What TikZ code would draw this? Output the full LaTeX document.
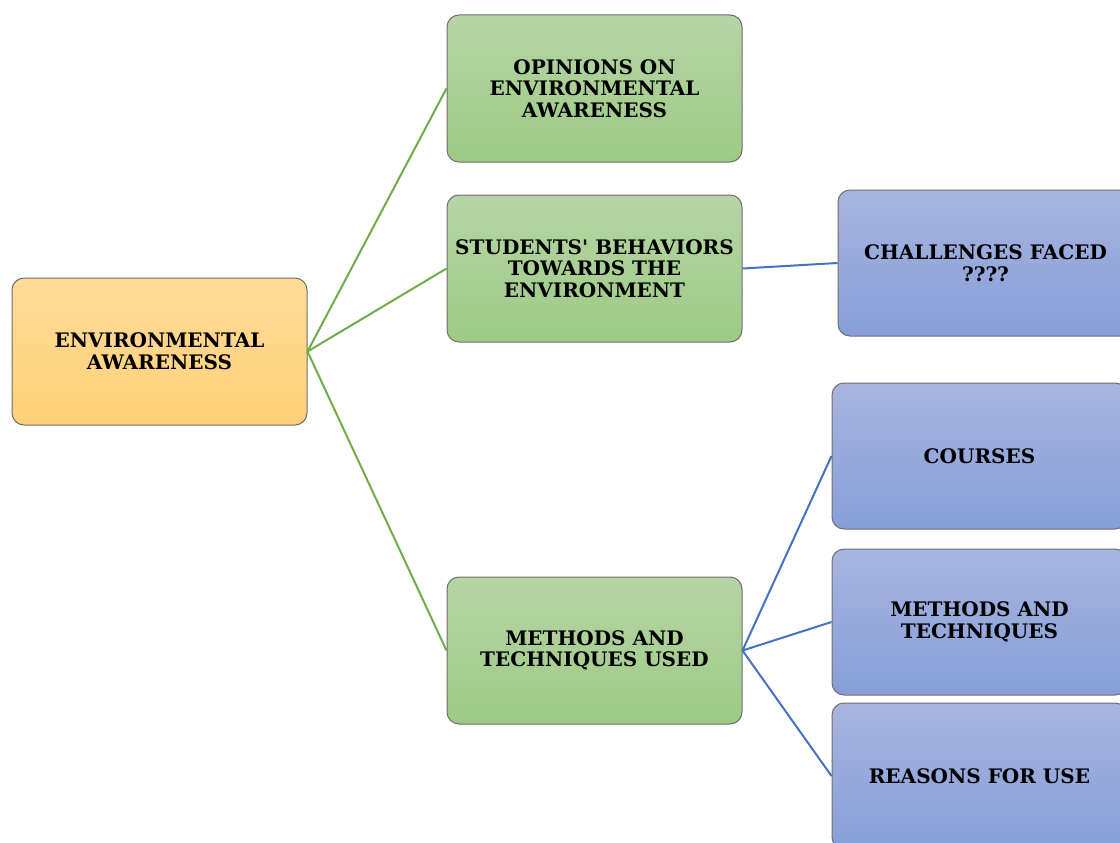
\documentclass[tikz,border=0pt]{standalone}
\usepackage{fontspec}
\setmainfont{DejaVu Serif}
\definecolor{orangetop}{RGB}{255,219,152}
\definecolor{orangebot}{RGB}{255,208,120}
\definecolor{greentop}{RGB}{182,213,166}
\definecolor{greenbot}{RGB}{158,202,132}
\definecolor{bluetop}{RGB}{168,181,224}
\definecolor{bluebot}{RGB}{134,158,216}
\definecolor{boxline}{RGB}{110,110,110}
\definecolor{greenline}{RGB}{112,173,71}
\definecolor{blueline}{RGB}{68,114,196}
\tikzset{
  box/.style={draw=boxline, line width=1pt, rounded corners=12pt,
    minimum width=295pt, minimum height=147pt, inner sep=0pt, align=center,
    font=\bfseries\fontsize{20}{21.7}\selectfont},
  rootbox/.style={box, top color=orangetop, bottom color=orangebot},
  topicbox/.style={box, top color=greentop, bottom color=greenbot},
  subbox/.style={box, top color=bluetop, bottom color=bluebot, minimum height=146pt},
  greenlink/.style={draw=greenline, line width=2pt},
  bluelink/.style={draw=blueline, line width=2pt}
}

\begin{document}
\begin{tikzpicture}[x=1pt, y=-1pt]
  \def\Xa{159.5};
  \def\Xb{594.5};
  \def\Xc{979.5};
  \useasboundingbox (0,0) rectangle (1120,843);
  \clip (0,0) rectangle (1120,843);

        \node[rootbox] (aware) at (\Xa, 351.5) {ENVIRONMENTAL\\AWARENESS};   % root

        \node[topicbox] (opinion) at (\Xb, 88.5) {OPINIONS ON\\ENVIRONMENTAL\\AWARENESS};
        \node[topicbox] (behave) at (\Xb, 268.5) {STUDENTS\textquotesingle{} BEHAVIORS\\TOWARDS THE\\ENVIRONMENT};
        \node[topicbox] (method) at (\Xb, 650.5) {METHODS AND\\TECHNIQUES USED};

        \node[subbox] (challenge) at (\Xc + 6, 263) {CHALLENGES FACED\\????};
        \node[subbox] (course) at (\Xc, 456) {COURSES};
        \node[subbox] (technique) at (\Xc, 622) {METHODS AND\\TECHNIQUES};
        \node[subbox] (reason) at (\Xc, 776) {REASONS FOR USE};

	\draw[greenlink] (aware.east) -- (opinion.west);  % root -> topics
	\draw[greenlink] (aware.east) -- (behave.west);
	\draw[greenlink] (aware.east) -- (method.west);

	\draw[bluelink] (behave.east) -- (challenge.west);  % behaviors -> challenges
	\draw[bluelink] (method.east) -- (course.west);     % methods -> parts
	\draw[bluelink] (method.east) -- (technique.west);
	\draw[bluelink] (method.east) -- (reason.west);

\end{tikzpicture}
\end{document}
